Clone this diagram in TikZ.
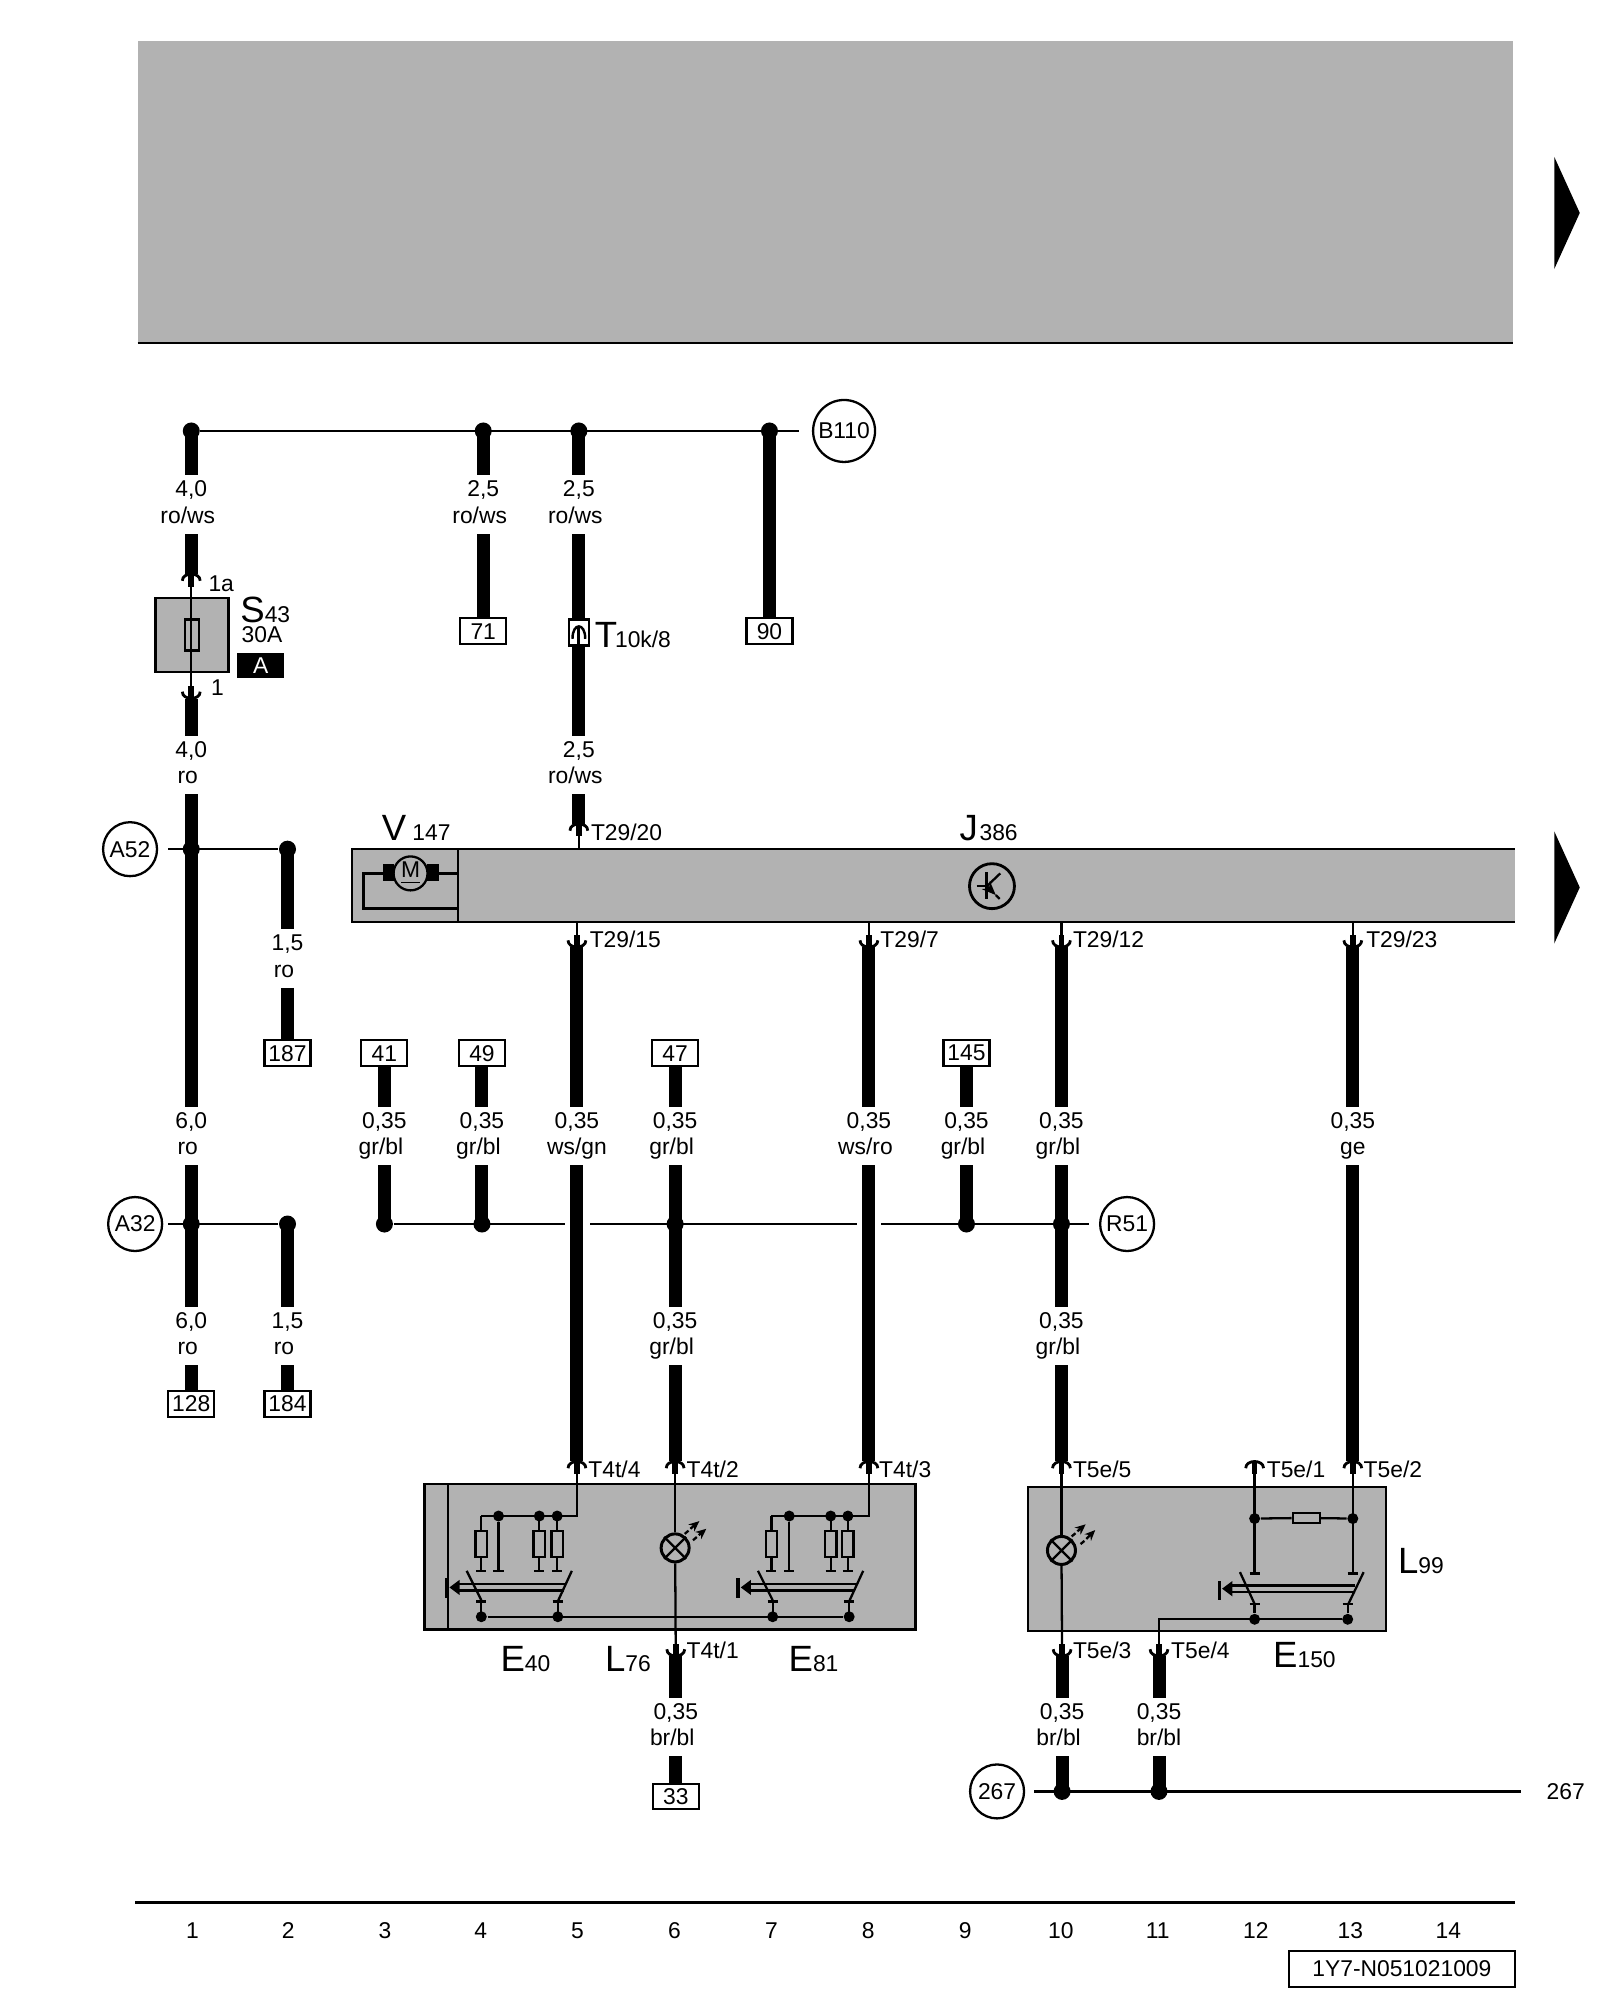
\documentclass[tikz,border=0pt]{standalone}
\usepackage{fontspec}
\setmainfont{Liberation Sans}
\usepackage{xcolor}
\usetikzlibrary{arrows.meta}
\definecolor{plategray}{HTML}{B2B2B2}
\newcommand{\lo}[1]{{\fontsize{6.5}{7.6}\selectfont #1}}
\newcommand{\gl}[3][2pt]{#2\\#3\vphantom{g}\kern#1}
\tikzset{
  wire/.style={line width=3.7pt},
  thinwire/.style={line width=0.65pt},
  rail/.style={line width=0.7pt},
  plate/.style={draw, line width=0.65pt, fill=plategray},
  dot/.style={circle, fill=black, inner sep=0pt, minimum size=0.17cm},
  smalldot/.style={circle, fill=black, inner sep=0pt, minimum size=0.11cm},
  termbox/.style={draw, line width=0.6pt, fill=white, inner sep=0pt, minimum width=0.46cm, minimum height=0.255cm, font=\fontsize{6.5}{7.6}\selectfont},
  ring/.style={draw, circle, line width=0.65pt, inner sep=0pt, minimum size=0.54cm, font=\fontsize{6.5}{7.6}\selectfont},
  gaugelab/.style={align=center, yshift=-0.85pt, inner xsep=0pt, inner ysep=1.4pt, font=\fontsize{6.5}{7.6}\selectfont},
  pinlab/.style={anchor=west, inner sep=0pt, font=\fontsize{6.5}{7.6}\selectfont},
  partlab/.style={anchor=base west, inner sep=0pt, font=\fontsize{10.4}{12}\selectfont},
  cnum/.style={inner sep=0pt, font=\fontsize{6.5}{7.6}\selectfont},
  plug/.pic={
    \draw[line width=0.8pt] (-7,5.5) .. controls (-7,-1.5) and (7,-1.5) .. (7,5.5);
    \draw[line width=1.6pt] (0,0) -- (0,10);
  },
  resleg/.pic={
    \draw[thinwire] (0,0) -- (0,12);
    \draw[thinwire] (-4.5,12) rectangle (4.5,32);
    \draw[thinwire] (0,32) -- (0,43);
    \draw[thinwire] (-4,43) -- (4,43);
  },
  rocker/.pic={
    \draw[thinwire] (-11.5,-36) -- (0,-13);
    \draw[thinwire] (71,-36) -- (59.5,-11);
    \draw[thinwire] (-4,-12) -- (4,-12) (0,-12) -- (0,0);
    \draw[thinwire] (56,-12) -- (64,-12) (60,-12) -- (60,0);
    \draw[thinwire] (-20,-25.5) -- (66,-25.5) (-20,-20.5) -- (64.5,-20.5);
    \fill (-25,-23) -- (-17,-29) -- (-17,-17) -- cycle;
    \draw[line width=1.1pt] (-27,-30) -- (-27,-15);
  },
}
\begin{document}
\begin{tikzpicture}[x=0.01275cm,y=-0.01275cm]
  \useasboundingbox (0,0) rectangle (1254.9,1568.6);

  % upper field and page arrows
  \fill[plategray] (108,32) rectangle (1187,269);
  \draw[line width=0.75pt] (108,269) -- (1187,269);
  \fill (1219,123) -- (1239,167) -- (1219,211) -- cycle;
  \fill (1219,652) -- (1239,696) -- (1219,740) -- cycle;

  % plates
  \fill[plategray] (276,666) rectangle (1188,723);
  \draw[thinwire] (1188,666) -- (276,666) -- (276,723) -- (1188,723);
  \draw[thinwire] (359,666) -- (359,723);
  \node[plate, minimum width=0.73cm, minimum height=0.74cm, inner sep=0pt] (s43box) at (150.5,498) {};
  \draw[plate] (333,1164) rectangle (718,1278);
  \draw[thinwire] (351.5,1164) -- (351.5,1278);
  \draw[plate] (806,1166) rectangle (1087,1279);

  % rails
  \node[dot] (b1) at (150,338) {};
  \node[dot] (b4) at (379,338) {};
  \node[dot] (b5) at (454,338) {};
  \node[dot] (b7) at (603.5,338) {};
  \node[ring, minimum size=0.62cm] (rb110) at (662,338) {B110};
  \coordinate (b110end) at (627,338);
  \draw[rail] (b1) -- (b110end);

  \node[ring] (ra52) at (102,666) {A52};
  \coordinate (a52start) at (132,666);
  \node[dot] (a1) at (150,666) {};
  \node[dot] (a2) at (225.5,666) {};
  \draw[rail] (a52start) -- (a2);

  \node[ring] (ra32) at (106,960) {A32};
  \coordinate (a32start) at (132,960);
  \node[dot] (c1) at (150,960) {};
  \node[dot] (c2) at (225.5,960) {};
  \draw[rail] (a32start) -- (c2);

  \node[ring] (rr51) at (884,960) {R51};
  \coordinate (r51end) at (854,960);
  \coordinate (gap5a) at (443,960);
  \coordinate (gap5b) at (463,960);
  \coordinate (gap8a) at (672,960);
  \coordinate (gap8b) at (691,960);
  \node[dot] (r3) at (301.5,960) {};
  \node[dot] (r4) at (378,960) {};
  \node[dot] (r6) at (529.5,960) {};
  \node[dot] (r9) at (758,960) {};
  \node[dot] (r10) at (832.5,960) {};
  \draw[rail] (r3) -- (gap5a);
  \draw[rail] (gap5b) -- (gap8a);
  \draw[rail] (gap8b) -- (r51end);

  \node[ring] (r267) at (782,1405) {267};
  \coordinate (e267a) at (811,1405);
  \coordinate (e267b) at (1193,1405);
  \node[dot] (m10) at (833,1405) {};
  \node[dot] (m11) at (909,1405) {};
  \draw[rail] (e267a) -- (e267b);
  \node[cnum] (t267) at (1228,1405) {267};

  % terminal boxes
  \node[termbox] (t71) at (379,495) {71};
  \node[termbox] (t90) at (603.5,495) {90};
  \node[termbox] (t187) at (225.5,826) {187};
  \node[termbox] (t41) at (301.5,826) {41};
  \node[termbox] (t49) at (378,826) {49};
  \node[termbox] (t47) at (529.5,826) {47};
  \node[termbox] (t145) at (758,826) {145};
  \node[termbox] (t128) at (150,1101) {128};
  \node[termbox] (t184) at (225.5,1101) {184};
  \node[termbox] (t33) at (530,1409) {33};

  % gauge and colour labels
  \node[gaugelab] (g1a) at (150,393.5) {\gl{4,0}{ro/ws}};
  \node[gaugelab] (g4) at (379,393.5) {\gl{2,5}{ro/ws}};
  \node[gaugelab] (g5a) at (454,393.5) {\gl{2,5}{ro/ws}};
  \node[gaugelab] (g1b) at (150,597.5) {\gl{4,0}{ro}};
  \node[gaugelab] (g5b) at (454,597.5) {\gl{2,5}{ro/ws}};
  \node[gaugelab] (g2a) at (225.5,749.5) {\gl{1,5}{ro}};
  \node[gaugelab] (g1c) at (150,888.5) {\gl{6,0}{ro}};
  \node[gaugelab] (g3) at (301.5,888.5) {\gl{0,35}{gr/bl}};
  \node[gaugelab] (g4b) at (378,888.5) {\gl{0,35}{gr/bl}};
  \node[gaugelab] (g5c) at (452.5,888.5) {\gl[0pt]{0,35}{ws/gn}};
  \node[gaugelab] (g6a) at (529.5,888.5) {\gl{0,35}{gr/bl}};
  \node[gaugelab] (g8) at (681.5,888.5) {\gl{0,35}{ws/ro}};
  \node[gaugelab] (g9) at (758,888.5) {\gl{0,35}{gr/bl}};
  \node[gaugelab] (g10a) at (832.5,888.5) {\gl{0,35}{gr/bl}};
  \node[gaugelab] (g13) at (1061,888.5) {\gl[0pt]{0,35}{ge}};
  \node[gaugelab] (g1d) at (150,1045.5) {\gl{6,0}{ro}};
  \node[gaugelab] (g2b) at (225.5,1045.5) {\gl{1,5}{ro}};
  \node[gaugelab] (g6b) at (529.5,1045.5) {\gl{0,35}{gr/bl}};
  \node[gaugelab] (g10b) at (832.5,1045.5) {\gl{0,35}{gr/bl}};
  \node[gaugelab] (g6c) at (530,1352) {\gl{0,35}{br/bl}};
  \node[gaugelab] (g10c) at (833,1352) {\gl{0,35}{br/bl}};
  \node[gaugelab] (g11) at (909,1352) {\gl[0pt]{0,35}{br/bl}};

  % plug contacts
  \coordinate (p1a) at (150,450);
  \coordinate (p1) at (150,548);
  \coordinate (p2920) at (454,646);
  \coordinate (p2915) at (452.5,743);
  \coordinate (p297) at (681.5,743);
  \coordinate (p2912) at (832.5,743);
  \coordinate (p2923) at (1061,743);
  \coordinate (p4t4) at (452.5,1146);
  \coordinate (p4t2) at (529.5,1146);
  \coordinate (p4t3) at (681.5,1146);
  \coordinate (p5e5) at (832.5,1146);
  \coordinate (p5e1) at (984,1146);
  \coordinate (p5e2) at (1061,1146);
  \coordinate (p4t1) at (530,1299);
  \coordinate (p5e3) at (833,1299);
  \coordinate (p5e4) at (909,1299);

  % wires
  \draw[wire] (b1.center) -- (g1a);
  \draw[wire] (g1a) -- (p1a);
  \draw[wire] (p1) -- (g1b);
  \draw[wire] (g1b) -- (g1c);
  \draw[wire] (g1c) -- (c1.center);
  \draw[wire] (c1.center) -- (g1d);
  \draw[wire] (g1d) -- (t128);
  \draw[wire] (a2.center) -- (g2a);
  \draw[wire] (g2a) -- (t187);
  \draw[wire] (c2.center) -- (g2b);
  \draw[wire] (g2b) -- (t184);
  \draw[wire] (b4.center) -- (g4);
  \draw[wire] (g4) -- (t71);
  \draw[wire] (b5.center) -- (g5a);
  \draw[wire] (g5a) -- (g5b);
  \draw[wire] (g5b) -- (p2920);
  \draw[wire] (b7.center) -- (t90);
  \draw[wire] (t41) -- (g3);
  \draw[wire] (g3) -- (r3.center);
  \draw[wire] (t49) -- (g4b);
  \draw[wire] (g4b) -- (r4.center);
  \draw[wire] (t47) -- (g6a);
  \draw[wire] (g6a) -- (r6.center);
  \draw[wire] (r6.center) -- (g6b);
  \draw[wire] (g6b) -- (p4t2);
  \draw[wire] (t145) -- (g9);
  \draw[wire] (g9) -- (r9.center);
  \draw[wire] (p2915) -- (g5c);
  \draw[wire] (g5c) -- (p4t4);
  \draw[wire] (p297) -- (g8);
  \draw[wire] (g8) -- (p4t3);
  \draw[wire] (p2912) -- (g10a);
  \draw[wire] (g10a) -- (r10.center);
  \draw[wire] (r10.center) -- (g10b);
  \draw[wire] (g10b) -- (p5e5);
  \draw[wire] (p2923) -- (g13);
  \draw[wire] (g13) -- (p5e2);
  \draw[wire] (p4t1) -- (g6c);
  \draw[wire] (g6c) -- (t33);
  \draw[wire] (p5e3) -- (g10c);
  \draw[wire] (g10c) -- (m10.center);
  \draw[wire] (p5e4) -- (g11);
  \draw[wire] (g11) -- (m11.center);

  % plugs
  \pic at (p1a) {plug};
  \pic at (p2920) {plug};
  \pic at (p4t4) {plug};
  \pic at (p4t2) {plug};
  \pic at (p4t3) {plug};
  \pic at (p5e5) {plug};
  \pic at (p5e1) {plug};
  \pic at (p5e2) {plug};
  \pic[yscale=-1] at (p1) {plug};
  \pic[yscale=-1] at (p2915) {plug};
  \pic[yscale=-1] at (p297) {plug};
  \pic[yscale=-1] at (p2912) {plug};
  \pic[yscale=-1] at (p2923) {plug};
  \pic[yscale=-1] at (p4t1) {plug};
  \pic[yscale=-1] at (p5e3) {plug};
  \pic[yscale=-1] at (p5e4) {plug};

  % fuse
  \node[draw, thinwire, fill=plategray, minimum width=0.14cm, minimum height=0.31cm, inner sep=0pt] (fuse) at (150.5,498) {};
  \draw[thinwire] (p1a) -- (p1);
  \node[fill=black, text=white, inner sep=0pt, minimum width=0.47cm, minimum height=0.255cm, font=\fontsize{6.5}{7.6}\selectfont] (fusetag) at (204.5,522) {A};

  % inline plug T10k/8
  \node[draw, thinwire, fill=white, minimum width=0.2cm, minimum height=0.26cm, inner sep=0pt] (t10k) at (454,496) {};
  \draw[line width=0.7pt] (449,501) .. controls (449,488) and (459,488) .. (459,501);
  \draw[line width=0.9pt] (454,491) -- (454,506);

  % stubs to the plates
  \draw[thinwire] (p2920) -- (454,666);
  \draw[thinwire] (p2915) -- (452.5,723);
  \draw[thinwire] (p297) -- (681.5,723);
  \draw[thinwire] (p2912) -- (832.5,723);
  \draw[thinwire] (p2923) -- (1061,723);

  % V147 motor
  \fill (300,678) rectangle (309,691);
  \fill (335,678) rectangle (344,691);
  \node[draw, circle, thinwire, fill=plategray, minimum size=0.34cm, inner sep=0pt, font=\fontsize{6.5}{7.6}\selectfont] (motor) at (322,685) {\underline{M}};
  \draw[thinwire] (300,685) -- (285,685) -- (285,712.5) -- (359,712.5);
  \draw[thinwire] (344,685) -- (359,685);

  % J386 symbol
  \node[draw, circle, line width=0.8pt, minimum size=0.45cm, inner sep=0pt] (ctrl) at (778,695) {};
  \draw[thinwire] (766,695) -- (774,695);
  \draw[line width=0.8pt] (774,684) -- (774,705);
  \draw[thinwire] (774,695) -- (784.5,685);
  \draw[thinwire, -{Stealth[length=4pt,width=3.2pt]}] (774,695) -- (781,702);
  \draw[thinwire] (781,702) -- (784,705);

  % E40, L76, E81
  \draw[thinwire] (p4t4) -- (452.5,1189) -- (377.5,1189);
  \node[smalldot] (e40a) at (391,1189) {};
  \node[smalldot] (e40b) at (423,1189) {};
  \node[smalldot] (e40c) at (437,1189) {};
  \pic at (377.5,1189) {resleg};
  \pic at (423,1189) {resleg};
  \pic at (437,1189) {resleg};
  \draw[thinwire] (e40a) -- (391,1232) (387,1232) -- (395,1232);
  \node[smalldot] (e40d) at (377.5,1268) {};
  \node[smalldot] (e40e) at (437.5,1268) {};
  \pic at (377.5,1268) {rocker};

  \draw[thinwire] (p4t3) -- (681.5,1189) -- (605,1189);
  \node[smalldot] (e81a) at (619,1189) {};
  \node[smalldot] (e81b) at (651.5,1189) {};
  \node[smalldot] (e81c) at (665,1189) {};
  \pic at (605,1189) {resleg};
  \pic at (651.5,1189) {resleg};
  \pic at (665,1189) {resleg};
  \draw[thinwire] (e81a) -- (619,1232) (615,1232) -- (623,1232);
  \node[smalldot] (e81d) at (606,1268) {};
  \node[smalldot] (e81e) at (666,1268) {};
  \pic at (606,1268) {rocker};
  \draw[thinwire] (e40d) -- (e81e);

  \node[draw, circle, line width=0.85pt, minimum size=0.28cm, inner sep=0pt] (l76) at (529.5,1214) {};
  \draw[thinwire] (l76.north west) -- (l76.south east) (l76.north east) -- (l76.south west);
  \draw[thinwire] (p4t2) -- (l76);
  \draw[thinwire] (l76) -- (p4t1);
  \draw[thinwire] (537,1203) -- (540,1200.5);
  \draw[thinwire, -{Stealth[length=3pt,width=2.6pt]}] (541.5,1199) -- (548.5,1193);
  \draw[thinwire] (543.5,1208) -- (546.5,1205.5);
  \draw[thinwire, -{Stealth[length=3pt,width=2.6pt]}] (548,1204) -- (554,1199);

  % L99, E150
  \node[draw, circle, line width=0.85pt, minimum size=0.28cm, inner sep=0pt] (l99) at (832.5,1216) {};
  \draw[thinwire] (l99.north west) -- (l99.south east) (l99.north east) -- (l99.south west);
  \draw[thinwire] (p5e5) -- (l99);
  \draw[thinwire] (l99) -- (p5e3);
  \draw[thinwire] (840.5,1205) -- (843.5,1202.5);
  \draw[thinwire, -{Stealth[length=3pt,width=2.6pt]}] (845,1201) -- (851.5,1195.5);
  \draw[thinwire] (847.5,1211) -- (850.5,1208.5);
  \draw[thinwire, -{Stealth[length=3pt,width=2.6pt]}] (852,1207) -- (859,1200);

  \node[smalldot] (e150a) at (984,1191) {};
  \node[smalldot] (e150b) at (1061,1191) {};
  \node[draw, thinwire, fill=plategray, minimum width=0.27cm, minimum height=0.105cm, inner sep=0pt] (e150r) at (1024.5,1190.5) {};
  \draw[thinwire] (e150a) -- (e150r);
  \draw[thinwire] (e150r) -- (e150b);
  \draw[thinwire] (p5e1) -- (984,1234) (980,1234) -- (988,1234);
  \draw[thinwire] (p5e2) -- (1061,1234) (1057,1234) -- (1065,1234);
  \draw[thinwire] (972.5,1233) -- (984,1258) (1069.5,1233) -- (1057.5,1258);
  \draw[thinwire] (980,1258) -- (988,1258) (1053,1258) -- (1061,1258);
  \node[smalldot] (e150c) at (984,1270) {};
  \node[smalldot] (e150d) at (1057,1270) {};
  \draw[thinwire] (984,1258) -- (e150c) (1057,1258) -- (e150d);
  \draw[thinwire] (e150d) -- (909,1270) -- (p5e4);
  \draw[thinwire] (964,1243.5) -- (1063,1243.5) (964,1248.5) -- (1061,1248.5);
  \fill (958.5,1246) -- (966.5,1240) -- (966.5,1252) -- cycle;
  \draw[line width=0.9pt] (956.5,1240) -- (956.5,1255);

  % part labels
  \node[partlab] (ls43) at (188,488) {S\lo{43}};
  \node[cnum] (l30a) at (205.5,498) {30A};
  \node[pinlab] (l1a) at (163,458) {1a};
  \node[pinlab] (l1) at (165,539) {1};
  \node[partlab] (lt10k) at (466,508) {T\kern-0.6pt\lo{10k/8}};
  \node[partlab] (lv147) at (299,659) {V\,\lo{147}};
  \node[partlab] (lj386) at (752,659) {J\kern0.5pt\lo{386}};
  \node[partlab] (le40) at (392,1311) {E\lo{40}};
  \node[partlab] (ll76) at (474,1311) {L\lo{76}};
  \node[partlab] (le81) at (618,1311) {E\lo{81}};
  \node[partlab] (ll99) at (1096,1234) {L\lo{99}};
  \node[partlab] (le150) at (998,1308) {E\lo{150}};

  % pin labels
  \node[pinlab] (n2920) at (463,653) {T29/20};
  \node[pinlab] (n2915) at (462,737) {T29/15};
  \node[pinlab] (n297) at (690,737) {T29/7};
  \node[pinlab] (n2912) at (841,737) {T29/12};
  \node[pinlab] (n2923) at (1071,737) {T29/23};
  \node[pinlab] (n4t4) at (461,1152) {T4t/4};
  \node[pinlab] (n4t2) at (538,1152) {T4t/2};
  \node[pinlab] (n4t3) at (689,1152) {T4t/3};
  \node[pinlab] (n5e5) at (841,1152) {T5e/5};
  \node[pinlab] (n5e1) at (993,1152) {T5e/1};
  \node[pinlab] (n5e2) at (1069,1152) {T5e/2};
  \node[pinlab] (n4t1) at (538,1294) {T4t/1};
  \node[pinlab] (n5e3) at (841,1294) {T5e/3};
  \node[pinlab] (n5e4) at (918,1294) {T5e/4};

  % current track numbers
  \draw[line width=0.7pt] (106,1492) -- (1188,1492);
  \node[cnum] (k1) at (151,1514) {1};
  \node[cnum] (k2) at (226,1514) {2};
  \node[cnum] (k3) at (302,1514) {3};
  \node[cnum] (k4) at (377,1514) {4};
  \node[cnum] (k5) at (453,1514) {5};
  \node[cnum] (k6) at (529,1514) {6};
  \node[cnum] (k7) at (605,1514) {7};
  \node[cnum] (k8) at (681,1514) {8};
  \node[cnum] (k9) at (757,1514) {9};
  \node[cnum] (k10) at (832,1514) {10};
  \node[cnum] (k11) at (908,1514) {11};
  \node[cnum] (k12) at (985,1514) {12};
  \node[cnum] (k13) at (1059,1514) {13};
  \node[cnum] (k14) at (1136,1514) {14};
  \node[draw, thinwire, inner sep=0pt, minimum width=2.26cm, minimum height=0.36cm, font=\fontsize{6.5}{7.6}\selectfont] (docid) at (1099.5,1544) {1Y7-N051021009};
\end{tikzpicture}
\end{document}
